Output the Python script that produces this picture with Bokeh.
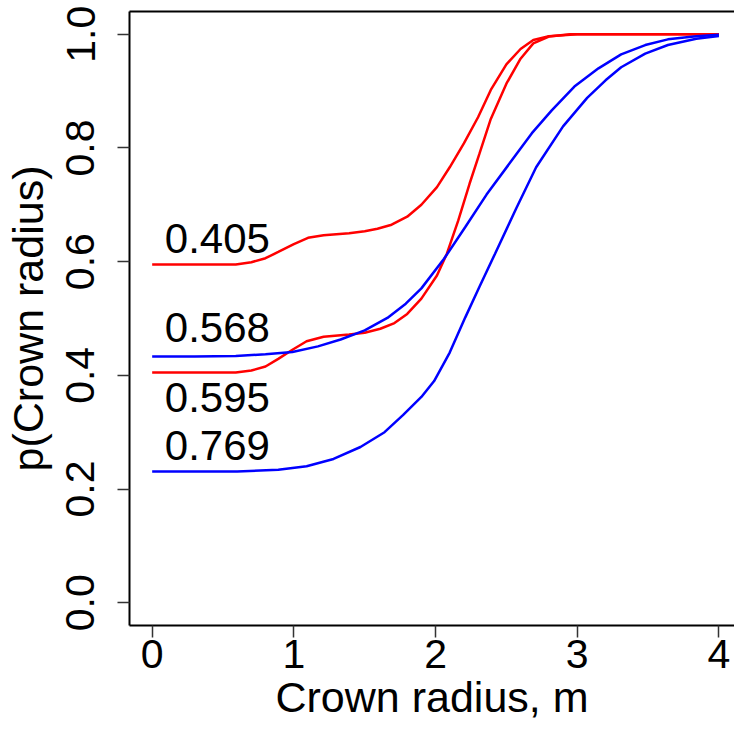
from bokeh.plotting import figure
from bokeh.models import LinearAxis, FixedTicker, PrintfTickFormatter, Range1d
from bokeh.core.properties import value
from bokeh.embed import file_html
from bokeh.resources import INLINE

# ---- data ----
red_a_x = [0.0, 0.3, 0.59, 0.70, 0.80, 0.89, 1.00, 1.10, 1.21, 1.39, 1.50, 1.59, 1.69, 1.80, 1.90,
           2.01, 2.10, 2.20, 2.30, 2.39, 2.50, 2.60, 2.69, 2.80, 3.0, 3.5, 4.0]
red_a_y = [0.595, 0.595, 0.595, 0.599, 0.606, 0.617, 0.631, 0.642, 0.6465, 0.650, 0.6535, 0.658, 0.665,
           0.679, 0.700, 0.731, 0.766, 0.808, 0.854, 0.902, 0.947, 0.974, 0.990, 0.9965, 1.0, 1.0, 1.0]

red_b_x = [0.0, 0.3, 0.59, 0.70, 0.80, 0.89, 0.99, 1.09, 1.21, 1.39, 1.50, 1.61, 1.71, 1.80, 1.90,
           2.01, 2.08, 2.16, 2.24, 2.31, 2.39, 2.50, 2.60, 2.69, 2.80, 2.95, 3.5, 4.0]
red_b_y = [0.405, 0.405, 0.405, 0.4085, 0.4156, 0.429, 0.445, 0.460, 0.468, 0.472, 0.475, 0.482, 0.492,
           0.508, 0.535, 0.5756, 0.614, 0.672, 0.737, 0.790, 0.851, 0.913, 0.957, 0.984, 0.996, 1.0, 1.0, 1.0]

blue_a_x = [0.0, 0.3, 0.59, 0.80, 0.99, 1.17, 1.33, 1.50, 1.66, 1.79, 1.90, 2.06, 2.21, 2.36, 2.52,
            2.68, 2.82, 2.98, 3.15, 3.31, 3.48, 3.64, 3.84, 4.0]
blue_a_y = [0.433, 0.433, 0.434, 0.437, 0.441, 0.451, 0.463, 0.479, 0.501, 0.526, 0.553, 0.605, 0.661,
            0.718, 0.772, 0.826, 0.866, 0.908, 0.940, 0.9646, 0.981, 0.991, 0.9966, 0.999]

blue_b_x = [0.0, 0.3, 0.6, 0.89, 1.09, 1.28, 1.47, 1.64, 1.77, 1.90, 1.99, 2.10, 2.21, 2.31, 2.42,
            2.57, 2.71, 2.90, 3.07, 3.20, 3.31, 3.48, 3.64, 3.84, 4.0]
blue_b_y = [0.231, 0.231, 0.231, 0.234, 0.240, 0.253, 0.274, 0.300, 0.330, 0.362, 0.390, 0.440, 0.502,
            0.556, 0.614, 0.694, 0.766, 0.838, 0.888, 0.919, 0.942, 0.966, 0.981, 0.992, 0.997]

labels = ["0.405", "0.568", "0.595", "0.769"]
label_x = [0.46, 0.46, 0.46, 0.46]
label_y = [0.617, 0.462, 0.339, 0.254]

x_ticks = [0, 1, 2, 3, 4]
y_ticks = [0.0, 0.2, 0.4, 0.6, 0.8, 1.0]

FONT = "Liberation Sans"

p = figure(width=734, height=734, output_backend="svg", toolbar_location=None,
           x_range=Range1d(-0.16, 4.11), y_range=Range1d(-0.04, 1.04),
           x_axis_location=None, y_axis_location=None,
           min_border_left=127, min_border_right=0, min_border_top=11, min_border_bottom=109)
p.outline_line_color = None
p.xgrid.visible = False
p.ygrid.visible = False
p.background_fill_color = "white"
p.border_fill_color = "white"

xaxis = LinearAxis(ticker=FixedTicker(ticks=x_ticks), axis_label="Crown radius, m")
yaxis = LinearAxis(ticker=FixedTicker(ticks=y_ticks), axis_label="p(Crown radius)",
                   formatter=PrintfTickFormatter(format="%.1f"))
for ax in (xaxis, yaxis):
    ax.axis_line_width = 2
    ax.axis_line_color = "black"
    ax.major_tick_out = 12
    ax.major_tick_in = 0
    ax.major_tick_line_width = 1.5
    ax.major_tick_line_color = "#333333"
    ax.minor_tick_out = 0
    ax.minor_tick_in = 0
    ax.major_label_text_font = FONT
    ax.major_label_text_font_size = "41px"
    ax.major_label_text_color = "black"
    ax.axis_label_text_font = FONT
    ax.axis_label_text_font_size = "43px"
    ax.axis_label_text_font_style = "normal"
    ax.axis_label_text_color = "black"
xaxis.major_label_standoff = 2
xaxis.axis_label_standoff = 2
yaxis.major_label_orientation = "vertical"
yaxis.major_label_standoff = 23
yaxis.axis_label_standoff = 12
p.add_layout(xaxis, "below")
p.add_layout(yaxis, "left")

top = LinearAxis(ticker=FixedTicker(ticks=[]), major_tick_out=0, major_tick_in=0,
                 minor_tick_out=0, minor_tick_in=0, major_label_standoff=0,
                 major_label_text_font_size="0px", axis_line_width=2)
p.add_layout(top, "above")

p.line(red_a_x, red_a_y, line_color="#FF0000", line_width=2.5)
p.line(red_b_x, red_b_y, line_color="#FF0000", line_width=2.5)
p.line(blue_a_x, blue_a_y, line_color="#0000FF", line_width=2.5)
p.line(blue_b_x, blue_b_y, line_color="#0000FF", line_width=2.5)

p.text(x=label_x, y=label_y, text=labels, text_font=value(FONT), text_font_size="42px",
       text_align="center", text_baseline="alphabetic", text_color="black", y_offset=-13)

open("out.html", "w").write(file_html(p, INLINE))
